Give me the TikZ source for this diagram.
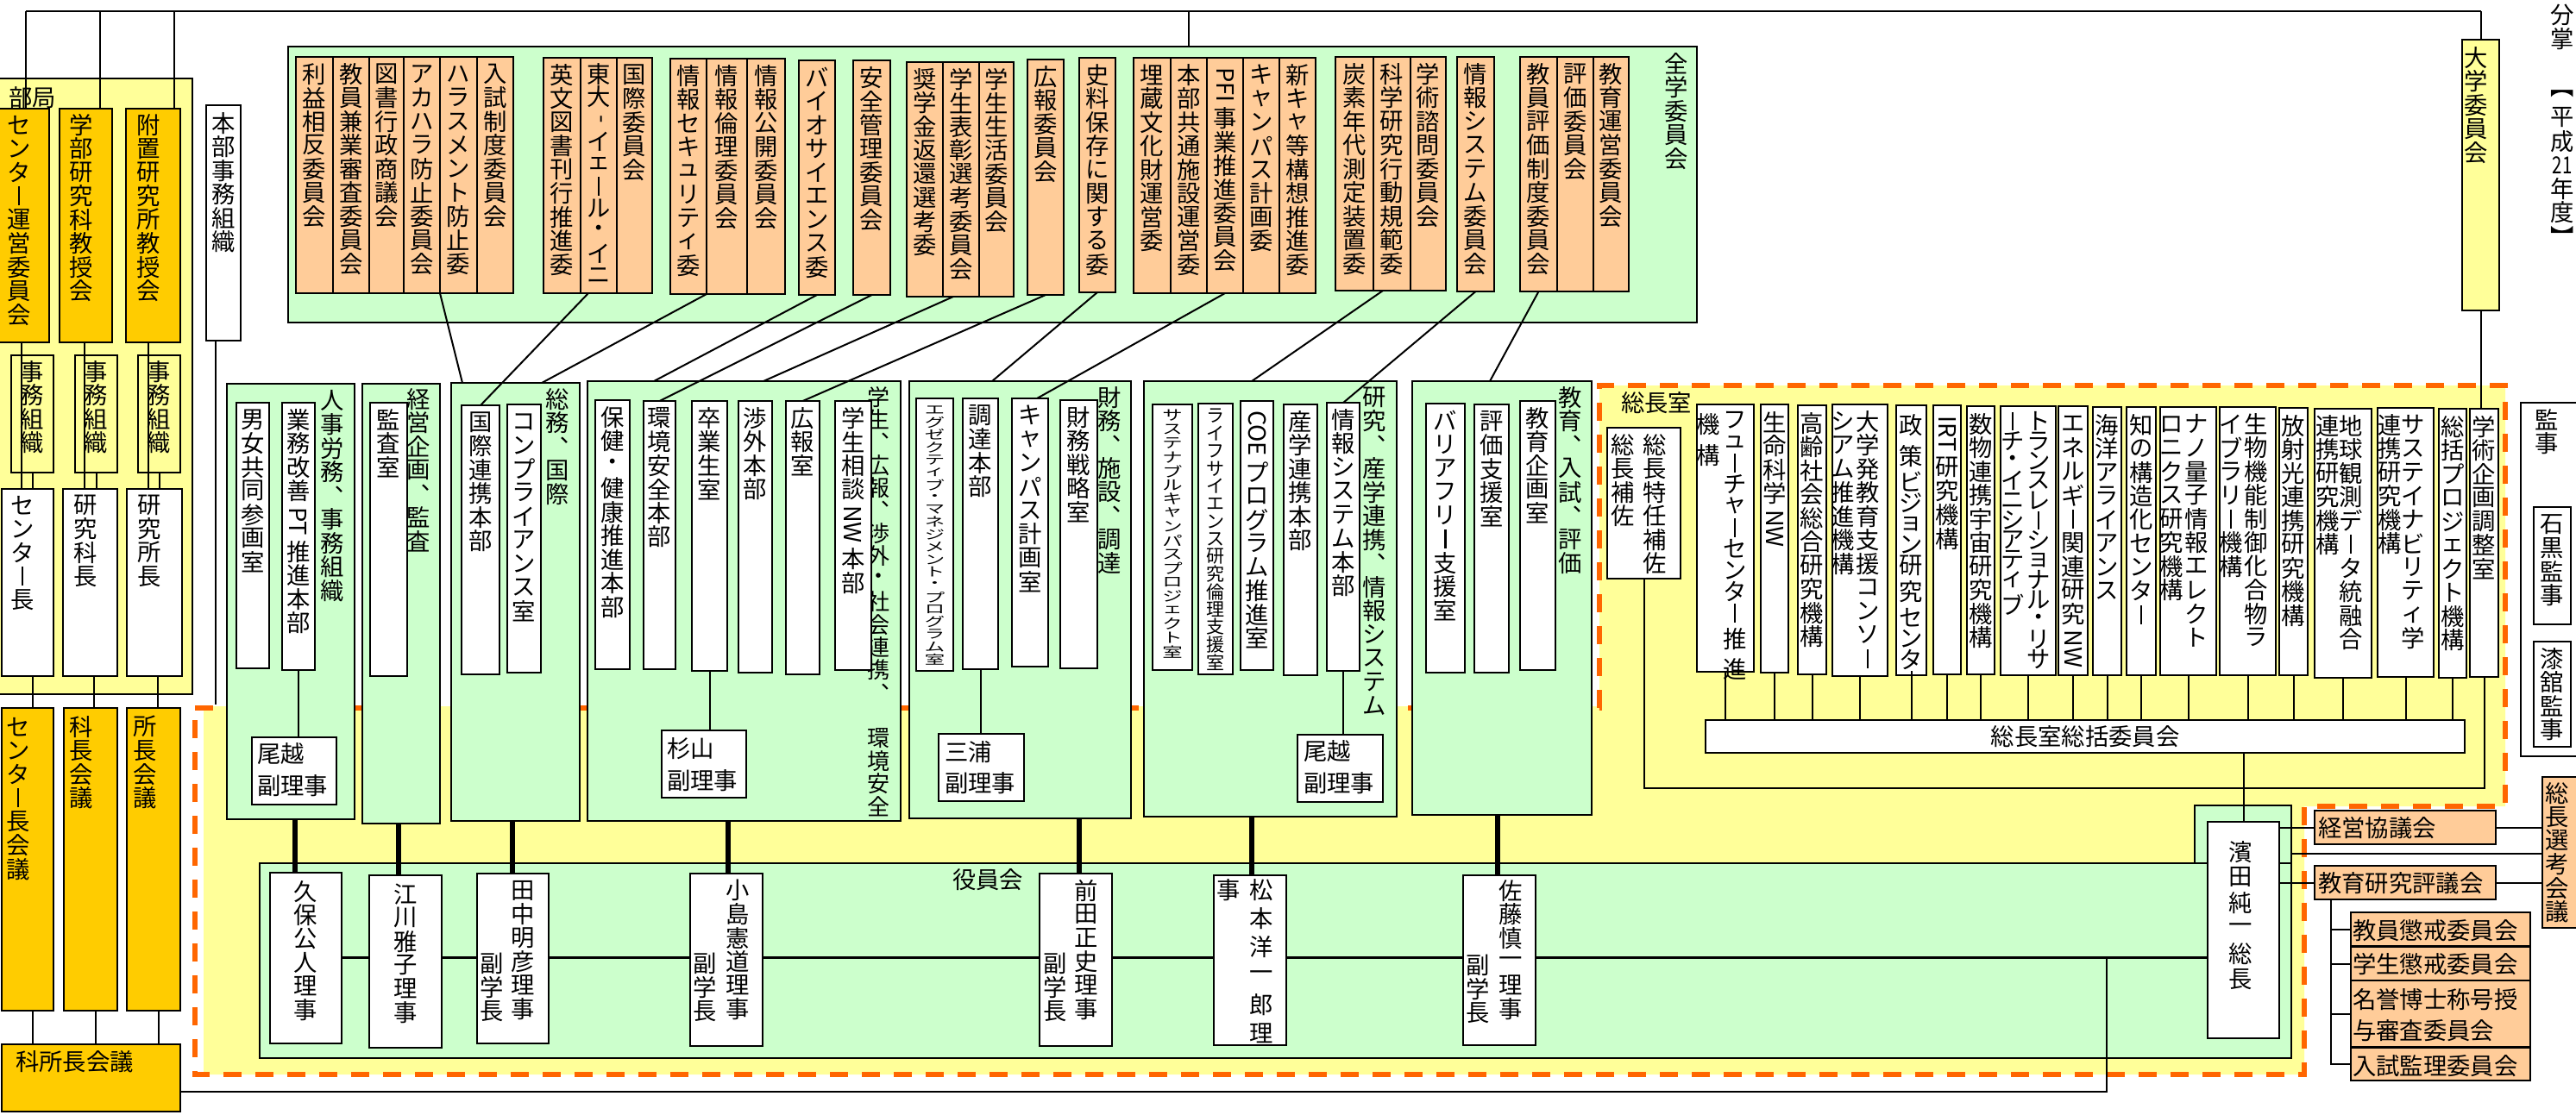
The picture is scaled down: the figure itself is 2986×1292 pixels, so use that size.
\documentclass[tikz,border=0pt]{standalone}
\usepackage{fontspec}
\setmainfont{Noto Sans CJK JP}
\usepackage{graphicx}
\usetikzlibrary{calc}
\XeTeXuseglyphmetrics=1
\definecolor{grn}{HTML}{CCFFCC}
\definecolor{pch}{HTML}{FFCC99}
\definecolor{org}{HTML}{FFCC00}
\definecolor{ylw}{HTML}{FFFF99}
\definecolor{dsh}{HTML}{FF6600}
\makeatletter
\newdimen\vtcell \vtcell=8.25pt
\newdimen\vtw \vtw=9pt
\def\vt@endmark{\vt@end}
\newcommand\vt[2][]{\begingroup\if\relax\detokenize{#1}\relax\else\vtcell=#1\relax\fi\vbox{\offinterlineskip\vt@loop#2\vt@end}\endgroup}
\def\vt@loop#1{\def\vt@tmp{#1}\ifx\vt@tmp\vt@endmark\else\vt@item{#1}\expandafter\vt@loop\fi}
\def\vt@item#1{\setbox\z@\hbox{#1}\dimen@\ht\z@\advance\dimen@\dp\z@
 \ifdim\dimen@>\vtcell\hbox to\vtw{\hss\vbox{\kern1.5pt\box\z@\kern1.5pt}\hss}%
 \else\hbox to\vtw{\hss\vbox to\vtcell{\vss\box\z@\vss}\hss}\fi}
\makeatother
\newcommand\vbar{\rule[-0.03em]{0.075em}{0.8em}}
\newcommand\vlat[1]{\rotatebox[origin=c]{-90}{#1}}
\newcommand\Bx[6]{\pgfmathsetmacro\bxw{0.3*((#5)-(#3))}\pgfmathsetmacro\bxh{0.3*((#6)-(#4))}\node[#1,minimum width=\bxw pt,minimum height=\bxh pt,anchor=north west] (#2) at (#3,#4) {};}
\newcommand\VB[8][6]{\Bx{#2}{#3}{#4}{#5}{#6}{#7}\node[vtx,anchor=north] at ($(#3.north)+(0,#1)$) {\vt{#8}};}
\begin{document}
\begin{tikzpicture}[x=0.3pt,y=-0.3pt,
 bx/.style={draw=black,line width=0.6pt,inner sep=0pt,outer sep=0pt},
 wbx/.style={bx,fill=white}, gbx/.style={bx,fill=grn}, pbx/.style={bx,fill=pch},
 obx/.style={bx,fill=org}, ybx/.style={bx,fill=ylw},
 vtx/.style={inner sep=0pt,outer sep=0pt,font=\fontsize{8.2pt}{8.25pt}\selectfont},
 htx/.style={inner sep=0pt,outer sep=0pt,align=left,font=\fontsize{8.2pt}{11pt}\selectfont},
 ln/.style={line width=0.6pt}, tk/.style={line width=1.6pt}, md/.style={line width=0.9pt}]
\fill[white] (0,0) rectangle (2986,1292);
\useasboundingbox (0,0) rectangle (2986,1292);
% dashed president-office region
\fill[ylw] (236,819) -- (1854,819) -- (1854,447) -- (2904,447) -- (2904,935) -- (2671,935) -- (2671,1246) -- (236,1246) -- cycle;
\draw[dsh,line width=1.6pt,dash pattern=on 6.3pt off 4.8pt] (226,821) -- (1854,821) -- (1854,447) -- (2904,447) -- (2904,935) -- (2671,935) -- (2671,1246) -- (226,1246) -- cycle;
% ===== 全学委員会 =====
\Bx{gbx}{zengaku}{334}{54}{1967}{374}
\node[vtx,anchor=north] at (1943,60) {\vt{全学委員会}};
\VB{pbx}{c1a}{343}{66}{386}{340}{利益相反委員会}
\VB{pbx}{c1b}{386}{66}{428}{340}{教員兼業審査委員会}
\VB{pbx}{c1c}{428}{66}{468}{340}{図書行政商議会}
\VB{pbx}{c1d}{468}{66}{510}{340}{アカハラ防止委員会}
\VB{pbx}{c1e}{510}{66}{553}{340}{ハラスメント防止委}
\VB{pbx}{c1f}{553}{66}{595}{340}{入試制度委員会}
\VB{pbx}{c2a}{630}{67}{673}{340}{英文図書刊行推進委}
\Bx{pbx}{c2b}{673}{67}{715}{340}
\node[vtx,anchor=north] at ($(c2b.north)+(0,6)$) {\vt[7.8pt]{東大{\vlat{-}}イェ\vbar ル・イニ}};
\VB{pbx}{c2c}{715}{67}{756}{340}{国際委員会}
\VB{pbx}{c3a}{777}{68}{819}{341}{情報セキュリティ委}
\VB{pbx}{c3b}{819}{68}{866}{341}{情報倫理委員会}
\VB{pbx}{c3c}{866}{68}{910}{341}{情報公開委員会}
\VB{pbx}{bio}{926}{70}{968}{342}{バイオサイエンス委}
\VB{pbx}{anzen}{989}{70}{1032}{342}{安全管理委員会}
\VB{pbx}{c6a}{1051}{72}{1093}{344}{奨学金返還選考委}
\VB{pbx}{c6b}{1093}{72}{1135}{344}{学生表彰選考委員会}
\VB{pbx}{c6c}{1135}{72}{1175}{344}{学生生活委員会}
\VB{pbx}{koho}{1191}{69}{1233}{342}{広報委員会}
\VB{pbx}{shiryo}{1251}{67}{1293}{339}{史料保存に関する委}
\VB{pbx}{c9a}{1314}{67}{1357}{340}{埋蔵文化財運営委}
\VB{pbx}{c9b}{1357}{67}{1399}{340}{本部共通施設運営委}
\VB{pbx}{pfi}{1399}{67}{1441}{340}{{\vlat{PFI}}事業推進委員会}
\VB{pbx}{c9d}{1441}{67}{1483}{340}{キャンパス計画委}
\VB{pbx}{c9e}{1483}{67}{1525}{340}{新キャ等構想推進委}
\VB{pbx}{c10a}{1548}{66}{1592}{337}{炭素年代測定装置委}
\VB{pbx}{kagaku}{1592}{66}{1635}{337}{科学研究行動規範委}
\VB{pbx}{c10c}{1635}{66}{1676}{337}{学術諮問委員会}
\VB{pbx}{joshisu}{1689}{66}{1732}{338}{情報システム委員会}
\VB{pbx}{kyohyo}{1762}{66}{1805}{338}{教員評価制度委員会}
\VB{pbx}{c12b}{1805}{66}{1847}{338}{評価委員会}
\VB{pbx}{c12c}{1847}{66}{1888}{338}{教育運営委員会}
% ===== 部局 =====
\Bx{ybx}{bukyoku}{-3}{91}{223}{805}
\node[htx,anchor=west] at (10,113) {部局};
\Bx{obx}{sc1}{-3}{126}{57}{397}
\Bx{obx}{sc2}{69}{126}{130}{397}
\Bx{obx}{sc3}{146}{126}{209}{397}
\node[vtx,anchor=north] at (22,131) {\vt{センタ\vbar 運営委員会}};
\node[vtx,anchor=north] at (94,131) {\vt{学部研究科教授会}};
\node[vtx,anchor=north] at (172,131) {\vt{附置研究所教授会}};
\VB[5]{ybx}{jm1}{13}{412}{62}{548}{事務組織}
\VB[5]{ybx}{jm2}{87}{412}{136}{548}{事務組織}
\VB[5]{ybx}{jm3}{160}{412}{209}{548}{事務組織}
\Bx{wbx}{w1}{2}{567}{62}{784}
\Bx{wbx}{w2}{73}{567}{136}{784}
\Bx{wbx}{w3}{147}{567}{211}{784}
\node[vtx,anchor=north] at (26,572) {\vt{センタ\vbar 長}};
\node[vtx,anchor=north] at (99,572) {\vt{研究科長}};
\node[vtx,anchor=north] at (173,572) {\vt{研究所長}};
\Bx{obx}{k1}{2}{821}{62}{1172}
\Bx{obx}{k2}{74}{821}{136}{1172}
\Bx{obx}{k3}{147}{821}{209}{1172}
\node[vtx,anchor=north] at (21,829) {\vt{センタ\vbar 長会議}};
\node[vtx,anchor=north] at (94,829) {\vt{科長会議}};
\node[vtx,anchor=north] at (168,829) {\vt{所長会議}};
\Bx{obx}{kasho}{2}{1211}{209}{1289}
\node[htx,anchor=west] at (18,1231) {科所長会議};
\VB[7]{wbx}{honbu}{239}{122}{279}{395}{本部事務組織}
% ===== 本部 groups =====
\Bx{gbx}{g1}{263}{445}{411}{950}
\node[vtx,anchor=north] at (385,451) {\vt{人事労務︑事務組織}};
\VB{wbx}{danjo}{274}{467}{312}{775}{男女共同参画室}
\VB{wbx}{gyomu}{327}{467}{365}{777}{業務改善{\vlat{PT}}推進本部}
\Bx{wbx}{okoshi1}{292}{855}{390}{933}
\node[htx,anchor=north west] at (298,862) {尾越\\副理事};
\Bx{gbx}{g2}{420}{445}{510}{955}
\node[vtx,anchor=north] at (485,449) {\vt{経営企画︑監査}};
\VB{wbx}{kansa}{429}{467}{472}{784}{監査室}
\Bx{gbx}{g3}{523}{444}{672}{952}
\node[vtx,anchor=north] at (646,449) {\vt{総務︑国際}};
\VB{wbx}{kokusai}{535}{470}{579}{782}{国際連携本部}
\VB{wbx}{compl}{588}{469}{627}{780}{コンプライアンス室}
\Bx{gbx}{g4}{681}{442}{1044}{952}
\node[vtx,anchor=north,font=\fontsize{7.8pt}{8pt}\selectfont] at (1018,447) {\vt[7.92pt]{学生︑広報︑渉外・社会連携︑　環境安全}};
\VB{wbx}{hoken}{690}{464}{730}{776}{保健・健康推進本部}
\VB{wbx}{kankyo}{746}{465}{783}{776}{環境安全本部}
\VB{wbx}{sotsu}{802}{465}{843}{778}{卒業生室}
\VB{wbx}{shogai}{856}{465}{895}{780}{渉外本部}
\VB{wbx}{kohoshitsu}{911}{465}{950}{782}{広報室}
\VB{wbx}{sodan}{968}{465}{1010}{777}{学生相談{\vlat{NW}}本部}
\Bx{wbx}{sugi}{767}{847}{865}{925}
\node[htx,anchor=north west] at (773,856) {杉山\\副理事};
\Bx{gbx}{g5}{1054}{442}{1311}{949}
\node[vtx,anchor=north] at (1286,447) {\vt{財務︑施設︑調達}};
\Bx{wbx}{exec}{1062}{462}{1105}{778}
\node[vtx,anchor=north,font=\fontsize{7pt}{7pt}\selectfont] at ($(exec.north)+(0,6)$) {\scalebox{1}[0.62]{\vt[7pt]{エグゼクティブ・マネジメント・プログラム室}}};
\VB{wbx}{chotatsu}{1116}{462}{1157}{776}{調達本部}
\VB{wbx}{campus}{1173}{462}{1215}{773}{キャンパス計画室}
\VB{wbx}{zaimu}{1229}{464}{1272}{775}{財務戦略室}
\Bx{wbx}{miura}{1088}{851}{1187}{929}
\node[htx,anchor=north west] at (1095,859) {三浦\\副理事};
\Bx{gbx}{g6}{1326}{442}{1619}{947}
\node[vtx,anchor=north] at (1593,447) {\vt{研究︑産学連携︑情報システム}};
\Bx{wbx}{sustain}{1336}{469}{1382}{777}
\node[vtx,anchor=north,font=\fontsize{7pt}{7pt}\selectfont] at ($(sustain.north)+(0,5)$) {\scalebox{1}[0.69]{\vt[7pt]{サステナブルキャンパスプロジェクト室}}};
\Bx{wbx}{life}{1389}{468}{1429}{782}
\node[vtx,anchor=north,font=\fontsize{6.3pt}{6.3pt}\selectfont] at ($(life.north)+(0,4)$) {\vt[6.12pt]{ライフサイエンス研究倫理支援室}};
\VB{wbx}{coe}{1438}{465}{1476}{777}{{\vlat{COE}}プログラム推進室}
\VB{wbx}{sangaku}{1488}{469}{1527}{783}{産学連携本部}
\VB{wbx}{johonb}{1538}{467}{1576}{778}{情報システム本部}
\Bx{wbx}{okoshi2}{1504}{852}{1603}{930}
\node[htx,anchor=north west] at (1511,859) {尾越\\副理事};
\Bx{gbx}{g7}{1637}{442}{1845}{945}
\node[vtx,anchor=north] at (1820,447) {\vt{教育︑入試︑評価}};
\VB{wbx}{barrier}{1653}{468}{1698}{780}{バリアフリ\vbar 支援室}
\VB{wbx}{hyokashien}{1709}{469}{1749}{780}{評価支援室}
\VB{wbx}{kyoikukikaku}{1762}{465}{1803}{777}{教育企画室}
% ===== 総長室 =====
\node[htx,anchor=west] at (1879,467) {総長室};
\Bx{wbx}{soho}{1863}{496}{1948}{671}
\node[vtx,anchor=north] at (1918,502) {\vt{総長特任補佐}};
\node[vtx,anchor=north] at (1881,502) {\vt{総長補佐}};
\Bx{wbx}{r1}{1967}{469}{2033}{779}
\node[vtx,anchor=north] at (2011,475) {\vt[7.45pt]{フュ\vbar チャ\vbar センタ\vbar 推進}};
\node[vtx,anchor=north] at (1980,475) {\vt[7.45pt]{機構}};
\VB[7]{wbx}{r2}{2041}{469}{2073}{780}{生命科学{\vlat{NW}}}
\VB[7]{wbx}{r3}{2084}{470}{2117}{782}{高齢社会総合研究機構}
\Bx{wbx}{r4}{2124}{469}{2188}{784}
\node[vtx,anchor=north] at (2165,475) {\vt{大学発教育支援コンソ\vbar}};
\node[vtx,anchor=north] at (2136,475) {\vt{シアム推進機構}};
\Bx{wbx}{r5}{2198}{470}{2233}{783}
\node[vtx,anchor=north] at ($(r5.north)+(0,6)$) {\vt[7.32pt]{政策ビジョン研究センタ\vbar}};
\VB[7]{wbx}{r6}{2241}{470}{2273}{782}{{\vlat{IRT}}研究機構}
\VB[7]{wbx}{r7}{2280}{471}{2312}{782}{数物連携宇宙研究機構}
\Bx{wbx}{r8}{2319}{471}{2383}{783}
\node[vtx,anchor=north] at (2363,477) {\vt[6.9pt]{トランスレ\vbar ショナル・リサ}};
\node[vtx,anchor=north] at (2333,477) {\vt[6.9pt]{\vbar チ・イニシアティブ}};
\VB[7]{wbx}{r9}{2386}{471}{2420}{783}{エネルギ\vbar 関連研究{\vlat{NW}}}
\VB[7]{wbx}{r10}{2426}{472}{2459}{783}{海洋アライアンス}
\VB[7]{wbx}{r11}{2465}{472}{2499}{783}{知の構造化センタ\vbar}
\Bx{wbx}{r12}{2504}{472}{2569}{783}
\node[vtx,anchor=north] at (2546,478) {\vt{ナノ量子情報エレクト}};
\node[vtx,anchor=north] at (2517,478) {\vt{ロニクス研究機構}};
\Bx{wbx}{r13}{2573}{472}{2638}{783}
\node[vtx,anchor=north] at (2615,478) {\vt{生物機能制御化合物ラ}};
\node[vtx,anchor=north] at (2586,478) {\vt{イブラリ\vbar 機構}};
\VB[7]{wbx}{r14}{2642}{473}{2675}{783}{放射光連携研究機構}
\Bx{wbx}{r15}{2683}{474}{2749}{786}
\node[vtx,anchor=north] at (2725,480) {\vt{地球観測デ\vbar タ統融合}};
\node[vtx,anchor=north] at (2698,480) {\vt{連携研究機構}};
\Bx{wbx}{r16}{2756}{473}{2821}{785}
\node[vtx,anchor=north] at (2797,479) {\vt{サステイナビリティ学}};
\node[vtx,anchor=north] at (2770,479) {\vt{連携研究機構}};
\VB[7]{wbx}{r17}{2827}{474}{2859}{786}{総括プロジェクト機構}
\VB[7]{wbx}{r18}{2863}{474}{2896}{785}{学術企画調整室}
\Bx{wbx}{sokatsu}{1977}{835}{2857}{873}
\node[htx] at (sokatsu.center) {総長室総括委員会};
% ===== 大学委員会, 監事, 分掌 =====
\Bx{ybx}{daigaku}{2854}{46}{2897}{360}
\node[vtx,anchor=north] at (2870,53) {\vt{大学委員会}};
\Bx{wbx}{kanji}{2922}{467}{2995}{877}
\node[vtx,anchor=north] at (2952,473) {\vt{監事}};
\VB{wbx}{ishiguro}{2937}{588}{2980}{724}{石黒監事}
\VB{wbx}{urushi}{2937}{744}{2980}{866}{漆舘監事}
\node[vtx,anchor=north] at (2970,4) {\vt{分掌}};
\node[vtx,anchor=north] at (2970,95) {\vt{︻平成{\scalebox{0.75}[1]{21}}年度︼}};
% ===== 役員会 =====
\Bx{gbx}{yakuin}{301}{1001}{2656}{1227}
\Bx{gbx}{yakuin2}{2544}{934}{2656}{1001}
\node[htx,anchor=north west] at (1104,1008) {役員会};
\Bx{wbx}{hamada}{2559}{953}{2642}{1204}
\node[vtx,anchor=north] at (2597,973) {\vt[8.85pt]{濱田純一総長}};
\VB[8]{wbx}{kubo}{313}{1012}{396}{1210}{久保公人理事}
\VB[8]{wbx}{egawa}{428}{1015}{512}{1215}{江川雅子理事}
\Bx{wbx}{tanaka}{553}{1013}{636}{1210}
\node[vtx,anchor=north] at (606,1019) {\vt{田中明彦理事}};
\node[vtx,anchor=south] at (570,1186) {\vt{副学長}};
\Bx{wbx}{kojima}{800}{1013}{884}{1213}
\node[vtx,anchor=north] at (855,1019) {\vt{小島憲道理事}};
\node[vtx,anchor=south] at (817,1186) {\vt{副学長}};
\Bx{wbx}{maeda}{1205}{1013}{1289}{1213}
\node[vtx,anchor=north] at (1259,1019) {\vt{前田正史理事}};
\node[vtx,anchor=south] at (1223,1186) {\vt{副学長}};
\Bx{wbx}{matsumoto}{1407}{1015}{1491}{1212}
\node[vtx,anchor=north] at (1462,1015) {\vt[10pt]{松本洋一郎理}};
\node[vtx,anchor=north] at (1424,1015) {\vt[10pt]{事}};
\Bx{wbx}{sato}{1696}{1015}{1780}{1212}
\node[vtx,anchor=north] at (1751,1019) {\vt{佐藤慎一理事}};
\node[vtx,anchor=south] at (1713,1188) {\vt{副学長}};
% right-side councils
\Bx{pbx}{keiei}{2683}{940}{2893}{979}
\node[htx,anchor=west] at (2687,960) {経営協議会};
\Bx{pbx}{kyoken}{2683}{1004}{2893}{1043}
\node[htx,anchor=west] at (2687,1024) {教育研究評議会};
\Bx{pbx}{chokai1}{2725}{1058}{2933}{1097}
\node[htx,anchor=west] at (2727,1079) {教員懲戒委員会};
\Bx{pbx}{chokai2}{2725}{1098}{2933}{1137}
\node[htx,anchor=west] at (2727,1118) {学生懲戒委員会};
\Bx{pbx}{meiyo}{2725}{1137}{2933}{1214}
\node[htx,anchor=north west] at (2727,1146) {名誉博士称号授\\与審査委員会};
\Bx{pbx}{nyushi}{2725}{1215}{2933}{1253}
\node[htx,anchor=west] at (2727,1236) {入試監理委員会};
\Bx{pbx}{senko}{2947}{901}{2995}{1076}
\node[vtx,anchor=north] at (2964,906) {\vt{総長選考会議}};
% ===== connectors =====
\coordinate (t1) at (30,13);
\coordinate (t2) at (116,13);
\coordinate (t3) at (202,13);
\coordinate (t4) at (1378,13);
\draw[ln] (t1) -- (daigaku.north |- t1);
\draw[ln] (t1) -- (t1 |- sc1.north);
\draw[ln] (t2) -- (t2 |- sc2.north);
\draw[ln] (t3) -- (t3 |- sc3.north);
\draw[ln] (t4) -- (t4 |- zengaku.north);
\draw[ln] (daigaku.north |- t1) -- (daigaku.north);
% 部局 internal
\draw[ln] ($(sc1.south west)+(28,0)$) coordinate (a) -- (a |- w1.north);
\draw[ln] ($(sc2.south west)+(29,0)$) coordinate (a) -- (a |- w2.north);
\draw[ln] ($(sc3.south west)+(26,0)$) coordinate (a) -- (a |- w3.north);
\draw[ln] (jm1.south) -- (jm1.south |- w1.north);
\draw[ln] (jm2.south) -- (jm2.south |- w2.north);
\draw[ln] (jm3.south) -- (jm3.south |- w3.north);
\draw[ln] ($(w1.south west)+(36,0)$) coordinate (a) -- (a |- k1.north);
\draw[ln] ($(w2.south west)+(36,0)$) coordinate (a) -- (a |- k2.north);
\draw[ln] ($(w3.south west)+(36,0)$) coordinate (a) -- (a |- k3.north);
\draw[ln] ($(k1.south west)+(36,0)$) coordinate (a) -- (a |- kasho.north);
\draw[ln] ($(k2.south west)+(37,0)$) coordinate (a) -- (a |- kasho.north);
\draw[ln] ($(k3.south west)+(37,0)$) coordinate (a) -- (a |- kasho.north);
\coordinate (kb) at (2442,1266);
\coordinate (kj) at (2442,1110);
\draw[ln] (kasho.east |- kb) -- (kb) -- (kj);
\coordinate (dtop) at (0,817);
\draw[ln] ($(honbu.south west)+(11,0)$) coordinate (a) -- (a |- dtop);
% committees to groups
\draw[ln] (c1d.south east) -- ($(g3.north west)+(13,0)$);
\draw[ln] ($(c2b.south west)+(9,0)$) -- (kokusai.north);
\draw[ln] (c3a.south east) -- ($(g3.north west)+(105,0)$);
\draw[ln] (bio.south) -- ($(g4.north west)+(77,0)$);
\draw[ln] (anzen.south) -- (kankyo.north);
\draw[ln] ($(c6b.south west)+(12,0)$) -- ($(g4.north west)+(204,0)$);
\draw[ln] (koho.south) -- (kohoshitsu.north);
\draw[ln] (shiryo.south) -- ($(g5.north west)+(96,0)$);
\draw[ln] (pfi.south) -- ($(campus.north west)+(29,0)$);
\draw[ln] ($(kagaku.south west)+(11,0)$) -- ($(g6.north west)+(125,0)$);
\draw[ln] (joshisu.south) -- (johonb.north);
\draw[ln] (kyohyo.south) -- ($(g7.north west)+(90,0)$);
% inside groups
\draw[ln] (gyomu.south) -- (gyomu.south |- okoshi1.north);
\draw[ln] (sotsu.south) -- (sotsu.south |- sugi.north);
\draw[ln] (chotatsu.south) -- (chotatsu.south |- miura.north);
\draw[ln] (johonb.south) -- (johonb.south |- okoshi2.north);
% groups to executives
\draw[tk] ($(g1.south west)+(79,0)$) coordinate (a) -- (a |- kubo.north);
\draw[tk] ($(g2.south west)+(42,0)$) coordinate (a) -- (a |- egawa.north);
\draw[tk] ($(g3.south west)+(71,0)$) coordinate (a) -- (a |- tanaka.north);
\draw[tk] ($(g4.south west)+(163,0)$) coordinate (a) -- (a |- kojima.north);
\draw[tk] ($(g5.south west)+(197,0)$) coordinate (a) -- (a |- maeda.north);
\draw[tk] ($(g6.south west)+(125,0)$) coordinate (a) -- (a |- matsumoto.north);
\draw[tk] ($(g7.south west)+(99,0)$) coordinate (a) -- (a |- sato.north);
% executive chain
\coordinate (ym) at (0,1110);
\draw[md] (kubo.east |- ym) -- (egawa.west |- ym);
\draw[md] (egawa.east |- ym) -- (tanaka.west |- ym);
\draw[md] (tanaka.east |- ym) -- (kojima.west |- ym);
\draw[md] (kojima.east |- ym) -- (maeda.west |- ym);
\draw[md] (maeda.east |- ym) -- (matsumoto.west |- ym);
\draw[md] (matsumoto.east |- ym) -- (sato.west |- ym);
\draw[md] (sato.east |- ym) -- (hamada.west |- ym);
% 総長室
\foreach \i in {1,...,17} {\draw[ln] (r\i.south) -- (r\i.south |- sokatsu.north);}
\coordinate (y914) at (0,914);
\draw[ln] (r18.south) -- (r18.south |- y914) -| (soho.south);
\draw[ln] (daigaku.south) -- (daigaku.south |- r18.north);
\draw[ln] (hamada.north) -- (hamada.north |- sokatsu.south);
\draw[ln] (hamada.east |- keiei.west) -- (keiei.west);
\draw[ln] (hamada.east |- kyoken.west) -- (kyoken.west);
\draw[ln] ($(yakuin2.south east)+(0,-11)$) coordinate (a) -- (a -| senko.west);
\draw[ln] (keiei.east) -- (keiei.east -| senko.west);
\draw[ln] (kyoken.east) -- (kyoken.east -| senko.west);
\draw[ln] ($(kyoken.south west)+(19,0)$) coordinate (tr) |- (nyushi.west);
\draw[ln] (tr |- chokai1.west) -- (chokai1.west);
\draw[ln] (tr |- chokai2.west) -- (chokai2.west);
\draw[ln] (tr |- meiyo.west) -- (meiyo.west);
\end{tikzpicture}
\end{document}
